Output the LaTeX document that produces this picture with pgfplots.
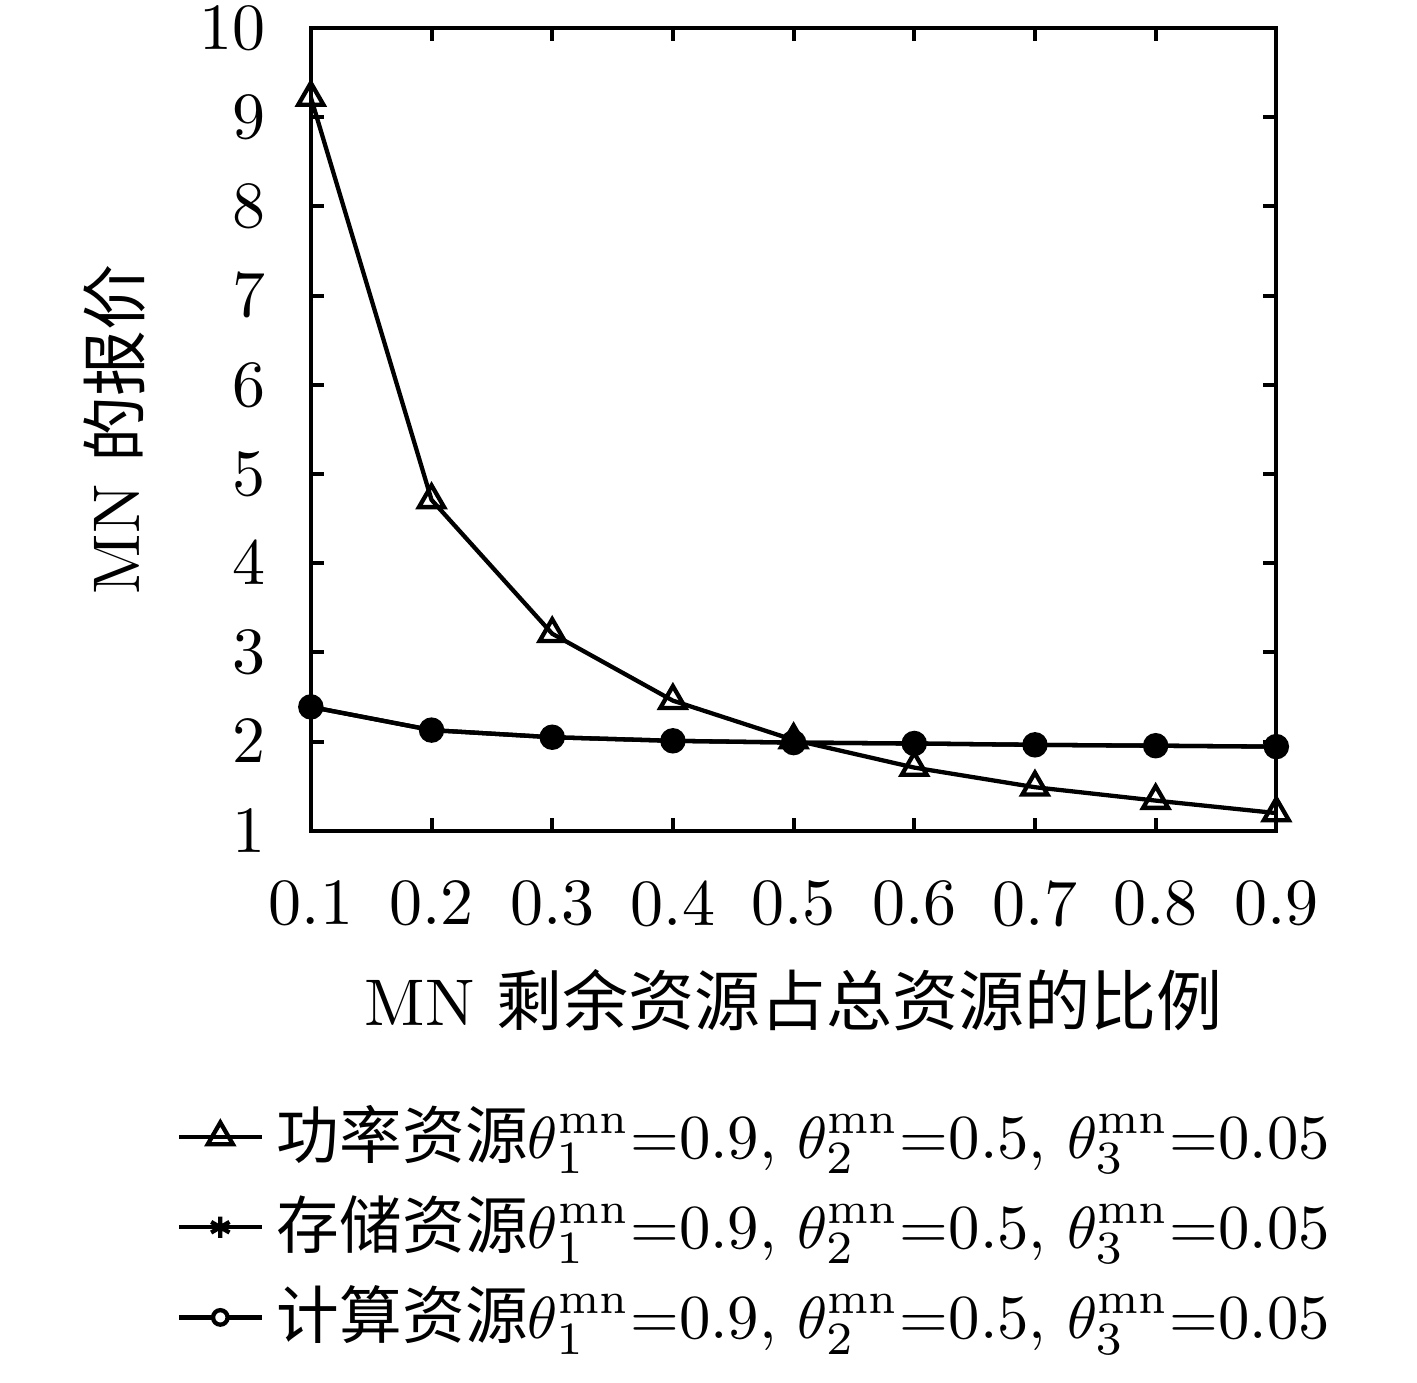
\documentclass[border=0pt]{standalone}
\usepackage{fontspec}
\usepackage{pgfplots}
\pgfplotsset{compat=1.18}
\newfontfamily\cjk{Noto Sans CJK SC}
\begin{document}
\begin{tikzpicture}
\begin{axis}[
  name=ax,
  scale only axis,
  width=146.3pt, height=121.7pt,
  xmin=0.1, xmax=0.9, ymin=1, ymax=10,
  xtick={0.1,0.2,0.3,0.4,0.5,0.6,0.7,0.8,0.9},
  ytick={1,2,3,4,5,6,7,8,9,10},
  xticklabels={0.1,0.2,0.3,0.4,0.5,0.6,0.7,0.8,0.9},
  tick align=inside,
  major tick length=2pt,
  axis line style={line width=0.6pt},
  every tick/.style={line width=0.6pt, black},
  xticklabel style={yshift=-4pt},
  yticklabel style={xshift=-3.4pt},
  xlabel={MN {\cjk 剩余资源占总资源的比例}},
  ylabel={MN {\cjk 的报价}},
  xlabel style={at={(0.5,0)}, anchor=center, yshift=-25.6pt},
  ylabel style={at={(-0.203,0.5)}, anchor=center, rotate=0},
  legend style={at={(0,0)}, anchor=north west, xshift=-23.5pt, yshift=-37.4pt,
    draw=none, fill=none, row sep=0.15pt, legend cell align=left,
    font=\fontsize{9.5}{11.5}\selectfont,
    /tikz/every even column/.append style={column sep=2pt}},
  legend image code/.code={
    \draw[mark repeat=2,mark phase=2] plot coordinates {(0cm,0cm) (0.22cm,0cm) (0.44cm,0cm)};},
]
\addplot[black, line width=0.65pt, mark=triangle, mark size=2.2pt, mark options={solid, line width=0.65pt}]
  coordinates {(0.1,9.22) (0.2,4.71) (0.3,3.21) (0.4,2.46) (0.5,2.02) (0.6,1.71) (0.7,1.49) (0.8,1.34) (0.9,1.20)};
\addlegendentry{{\cjk 功率资源}$\theta_1^{\mathrm{mn}}$=0.9, $\theta_2^{\mathrm{mn}}$=0.5, $\theta_3^{\mathrm{mn}}$=0.05}
\addplot[black, line width=0.65pt, mark=asterisk, mark size=1.6pt, mark options={solid}]
  coordinates {(0.1,2.39) (0.2,2.13) (0.3,2.05) (0.4,2.01) (0.5,1.99) (0.6,1.98) (0.7,1.965) (0.8,1.955) (0.9,1.945)};
\addlegendentry{{\cjk 存储资源}$\theta_1^{\mathrm{mn}}$=0.9, $\theta_2^{\mathrm{mn}}$=0.5, $\theta_3^{\mathrm{mn}}$=0.05}
\addplot[black, line width=0.65pt, mark=*, mark size=1.6pt, mark options={solid, fill=black},
  legend image code/.code={\draw[line width=0.65pt] (0cm,0cm) -- (0.44cm,0cm); \draw[fill=white, line width=0.65pt] (0.22cm,0cm) circle (1.1pt);}]
  coordinates {(0.1,2.39) (0.2,2.13) (0.3,2.05) (0.4,2.01) (0.5,1.99) (0.6,1.98) (0.7,1.965) (0.8,1.955) (0.9,1.945)};
\addlegendentry{{\cjk 计算资源}$\theta_1^{\mathrm{mn}}$=0.9, $\theta_2^{\mathrm{mn}}$=0.5, $\theta_3^{\mathrm{mn}}$=0.05}
\end{axis}
\pgfresetboundingbox
\path[use as bounding box] (ax.south west) ++(-47.1pt,-83.5pt) rectangle ++(214.7pt,209.4pt);
\end{tikzpicture}
\end{document}
